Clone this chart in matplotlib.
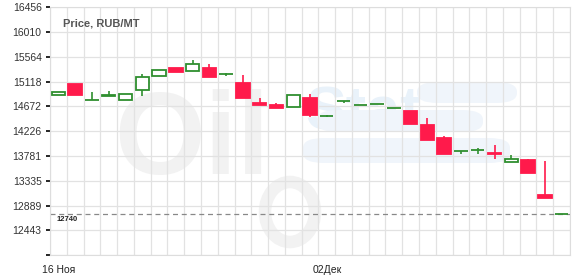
import numpy as np
import pandas as pd
import matplotlib
matplotlib.use("Agg")
import matplotlib.pyplot as plt
from matplotlib.patches import FancyBboxPatch, Ellipse

plt.rcParams['font.family'] = ['Liberation Sans', 'DejaVu Sans']

# daily candles, 16 Nov .. 16 Dec
dates = pd.date_range("2020-11-16", periods=31, freq="D")
opens = [14884, 15081, 14781, 14866, 14794, 14973, 15212, 15368, 15314, 15356,
         15250, 15092, 14740, 14704, 14661, 14823, 14497, 14773, 14702, 14720,
         14645, 14584, 14333, 14112, 13869, 13887, 13826, 13681, 13717, 13076, 12738]
highs = [14930, 15081, 14930, 14948, 14894, 15248, 15325, 15368, 15512, 15440,
         15278, 15230, 14830, 14727, 14884, 14889, 14525, 14776, 14704, 14722,
         14647, 14584, 14458, 14140, 13871, 13925, 13986, 13799, 13735, 13686, 12745]
lows = [14884, 14884, 14781, 14866, 14794, 14858, 15212, 15289, 15314, 15200,
        15217, 14823, 14704, 14638, 14661, 14482, 14476, 14733, 14702, 14720,
        14645, 14363, 14076, 13812, 13824, 13824, 13728, 13681, 13483, 13028, 12738]
closes = [14930, 14884, 14785, 14870, 14894, 15207, 15325, 15289, 15440, 15200,
          15253, 14823, 14704, 14638, 14884, 14517, 14500, 14776, 14704, 14722,
          14647, 14363, 14076, 13812, 13871, 13889, 13822, 13735, 13483, 13028, 12740]
last_price = 12740
yticks = [11997, 12443, 12889, 13335, 13781, 14226, 14672, 15118, 15564, 16010, 16456]
xlabels = {0: "16 Ноя", 16: "02Дек"}

RED = "#ff1a4b"
GREEN = "#2f8f2f"

fig = plt.figure(figsize=(5.8, 2.76), dpi=100)
ax = fig.add_axes([50/580, (276-255.3)/276, 520/580, (255.3-7)/276])

x = np.arange(len(dates))
w = 0.8
for i in x:
    o, h, l, c = opens[i], highs[i], lows[i], closes[i]
    up = c >= o
    col = GREEN if up else RED
    ax.vlines(i, l, h, color=col, lw=1.2, zorder=3)
    ax.bar(i, abs(c - o), w, bottom=min(o, c),
           color="white" if up else RED, edgecolor=col, lw=1.3, zorder=4)

ax.axhline(last_price, color="#888888", ls=(0, (4, 3)), lw=0.9, zorder=2)
ax.text(-0.1, last_price - 40, str(last_price), fontsize=5.5, fontweight="bold",
        va="top", ha="left", color="#222222")

ax.set_xlim(-0.5, len(dates) - 0.5)
ax.set_ylim(yticks[0], yticks[-1])
ax.set_yticks(yticks)
ax.set_yticklabels([""] + [str(t) for t in yticks[1:]])
ax.set_xticks(list(xlabels.keys()))
ax.set_xticklabels(list(xlabels.values()))
ax.set_xticks(np.arange(len(dates) + 1) - 0.5, minor=True)
ax.tick_params(axis="x", which="both", length=0, labelsize=7.5, pad=7, colors="#222222")
ax.tick_params(axis="y", length=3, width=1.2, color="black", labelsize=7.5,
               labelcolor="#333333", pad=3)
ax.grid(True, axis="y", color="#e2e2e2", lw=0.9)
ax.grid(True, axis="x", which="minor", color="#e2e2e2", lw=0.9)
ax.set_axisbelow(True)
for s in ax.spines.values():
    s.set_color("#dddddd")

ax.text(0.025, 0.955, "Price, RUB/MT", transform=ax.transAxes, fontsize=8,
        fontweight="bold", color="#555555", va="top", ha="left")

# faint watermark
tr = ax.transAxes
def px(xp, yp):
    return ((xp - 50) / 520, (255.3 - yp) / 248.3)
ax.text(*px(114, 174), "Oil", transform=tr, fontsize=84, fontweight="bold",
        color="#f2f2f2", zorder=0.5, ha="left", va="baseline")
c0 = px(290, 212)
ax.add_patch(Ellipse(c0, 50 / 520, 60 / 248.3, transform=tr, fc="none",
                     ec="#f2f2f2", lw=9, zorder=0.5))
ax.text(*px(305, 130), "Stat", transform=tr, fontsize=44, fontweight="bold",
        color="#e9f2fa", zorder=0.5, ha="left", va="baseline")
for (x0, y0, x1, y1) in [(417, 82, 517, 103), (317, 110, 483, 132), (303, 138, 510, 163)]:
    a0 = px(x0, y1)
    a1 = px(x1, y0)
    ax.add_patch(FancyBboxPatch(a0, a1[0] - a0[0], a1[1] - a0[1],
                                boxstyle="round,pad=0,rounding_size=0.04",
                                transform=tr, fc="#f0f5fb", ec="none", zorder=0.5))

fig.savefig("out.png", dpi=100)
